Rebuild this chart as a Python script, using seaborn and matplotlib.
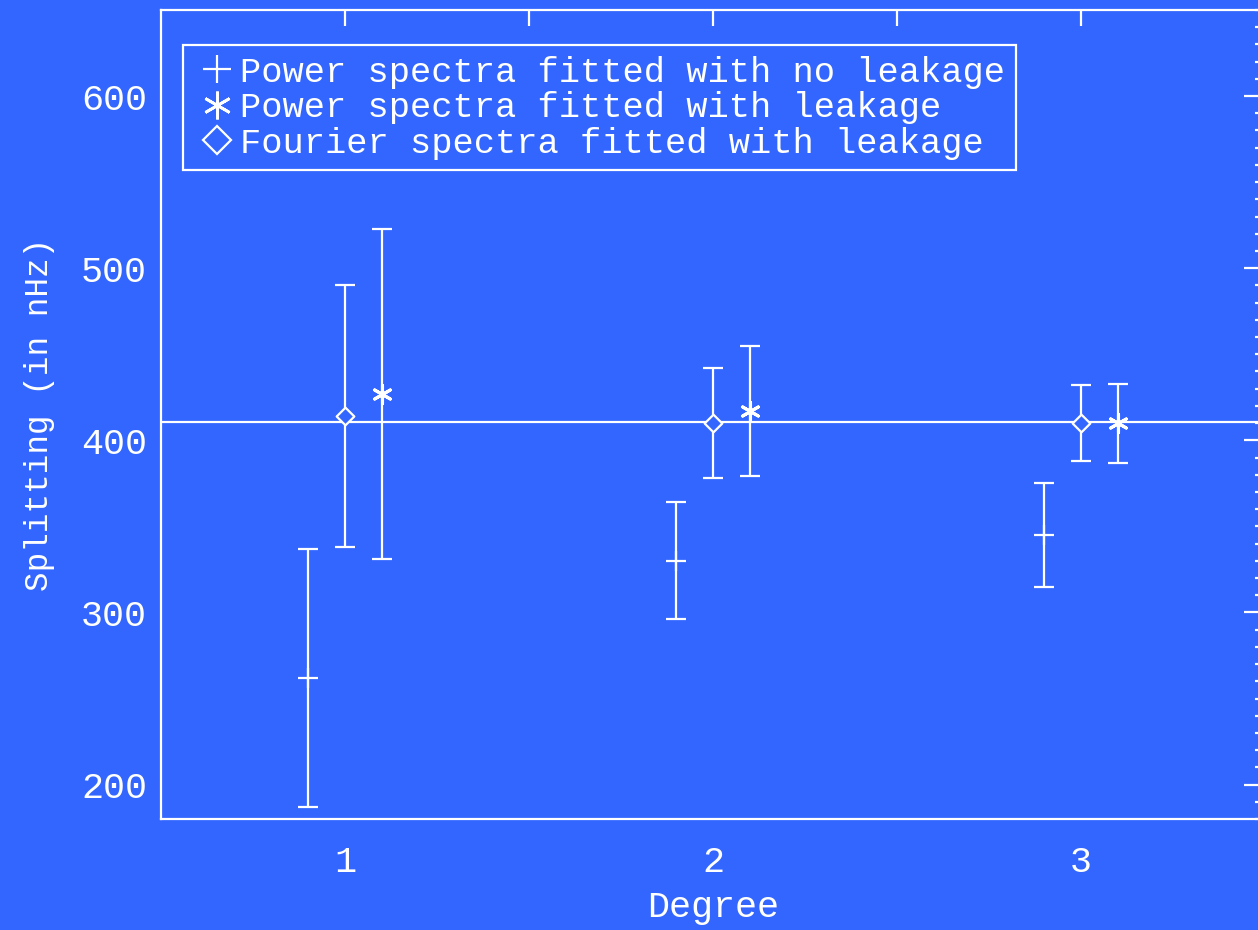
import numpy as np
import pandas as pd
import seaborn as sns
import matplotlib
matplotlib.use("Agg")
import matplotlib.pyplot as plt
from matplotlib.lines import Line2D
from matplotlib.ticker import MultipleLocator, FixedLocator, FixedFormatter

# Rotational splitting per degree, three fitting methods
degree = [1, 2, 3]
labels = ["Power spectra fitted with no leakage",
          "Power spectra fitted with leakage",
          "Fourier spectra fitted with leakage"]
offsets = [-0.1, 0.1, 0.0]

power_noleak = [262, 330, 345]
power_noleak_err = [75, 34, 30]
power_leak = [427, 417, 410]
power_leak_err = [96, 38, 23]
fourier_leak = [414, 410, 410]
fourier_leak_err = [76, 32, 22]

mean_splitting = 410.5

BG = "#3366FF"
FG = "white"

sns.set_theme(style="white")
plt.rcParams["font.family"] = ["Liberation Mono", "DejaVu Sans Mono"]
plt.rcParams["axes.facecolor"] = BG
plt.rcParams["figure.facecolor"] = BG
plt.rcParams["text.color"] = FG
plt.rcParams["axes.labelcolor"] = FG

rows = []
for name, vals, errs, off in zip(labels, [power_noleak, power_leak, fourier_leak],
                                 [power_noleak_err, power_leak_err, fourier_leak_err], offsets):
    for d, v, e in zip(degree, vals, errs):
        rows.append({"method": name, "x": d + off, "splitting": v, "err": e})
df = pd.DataFrame(rows)

fig = plt.figure(figsize=(12.58, 9.30), dpi=100)
ax = fig.add_axes([161 / 1258, 111 / 930, 1104 / 1258, 809 / 930])

lw = 1.6
ax.axhline(mean_splitting, color=FG, lw=lw, zorder=1)

for name in labels:
    sub = df[df["method"] == name]
    ax.errorbar(sub["x"], sub["splitting"], yerr=sub["err"], fmt="none",
                ecolor=FG, elinewidth=lw, capsize=7, capthick=lw, zorder=2)

markers = {labels[0]: "+", labels[1]: (6, 2, 0), labels[2]: "D"}
sizes = {labels[0]: 14, labels[1]: 13, labels[2]: 9}
for name in labels:
    sub = df[df["method"] == name]
    sns.scatterplot(data=sub, x="x", y="splitting", marker=markers[name], s=sizes[name] ** 2,
                    color=FG if name != labels[2] else BG, edgecolor=FG,
                    linewidth=lw + (0.6 if name == labels[1] else 0), ax=ax, zorder=3,
                    legend=False)

ax.set_xlim(0.5, 3.5)
ax.set_ylim(180, 650)

ax.xaxis.set_major_locator(FixedLocator([1, 1.5, 2, 2.5, 3]))
ax.xaxis.set_major_formatter(FixedFormatter(["1", "", "2", "", "3"]))
ax.yaxis.set_major_locator(MultipleLocator(100))
ax.yaxis.set_minor_locator(MultipleLocator(10))

ax.tick_params(axis="both", which="both", direction="in", colors=FG, width=lw,
               top=True, right=True, labelsize=26.5)
ax.tick_params(axis="x", which="major", length=11.5, pad=19)
ax.tick_params(axis="y", which="major", length=15, pad=10)
ax.tick_params(axis="y", which="minor", length=7.5)

for sp in ax.spines.values():
    sp.set_color(FG)
    sp.set_linewidth(lw)

ax.set_xlabel("Degree", fontsize=26.5, labelpad=7)
ax.set_ylabel("Splitting (in nHz)", fontsize=23.5, labelpad=19)

handles = [Line2D([], [], ls="none", marker=markers[labels[0]], ms=20, mew=lw, color=FG),
           Line2D([], [], ls="none", marker=markers[labels[1]], ms=20, mew=lw + 0.4, color=FG),
           Line2D([], [], ls="none", marker=markers[labels[2]], ms=14, mew=lw,
                  mfc=BG, mec=FG)]
leg = ax.legend(handles, labels, loc="upper left", bbox_to_anchor=(22 / 1104, 1 - 35 / 809),
                fontsize=25.5, frameon=True, fancybox=False, handlelength=1.3,
                handletextpad=0.02, labelspacing=0.07, borderpad=0.3, borderaxespad=0)
frame = leg.get_frame()
frame.set_facecolor(BG)
frame.set_edgecolor(FG)
frame.set_linewidth(lw)
frame.set_alpha(1)
for t in leg.get_texts():
    t.set_color(FG)

fig.savefig("out.png", dpi=100, facecolor=BG)
